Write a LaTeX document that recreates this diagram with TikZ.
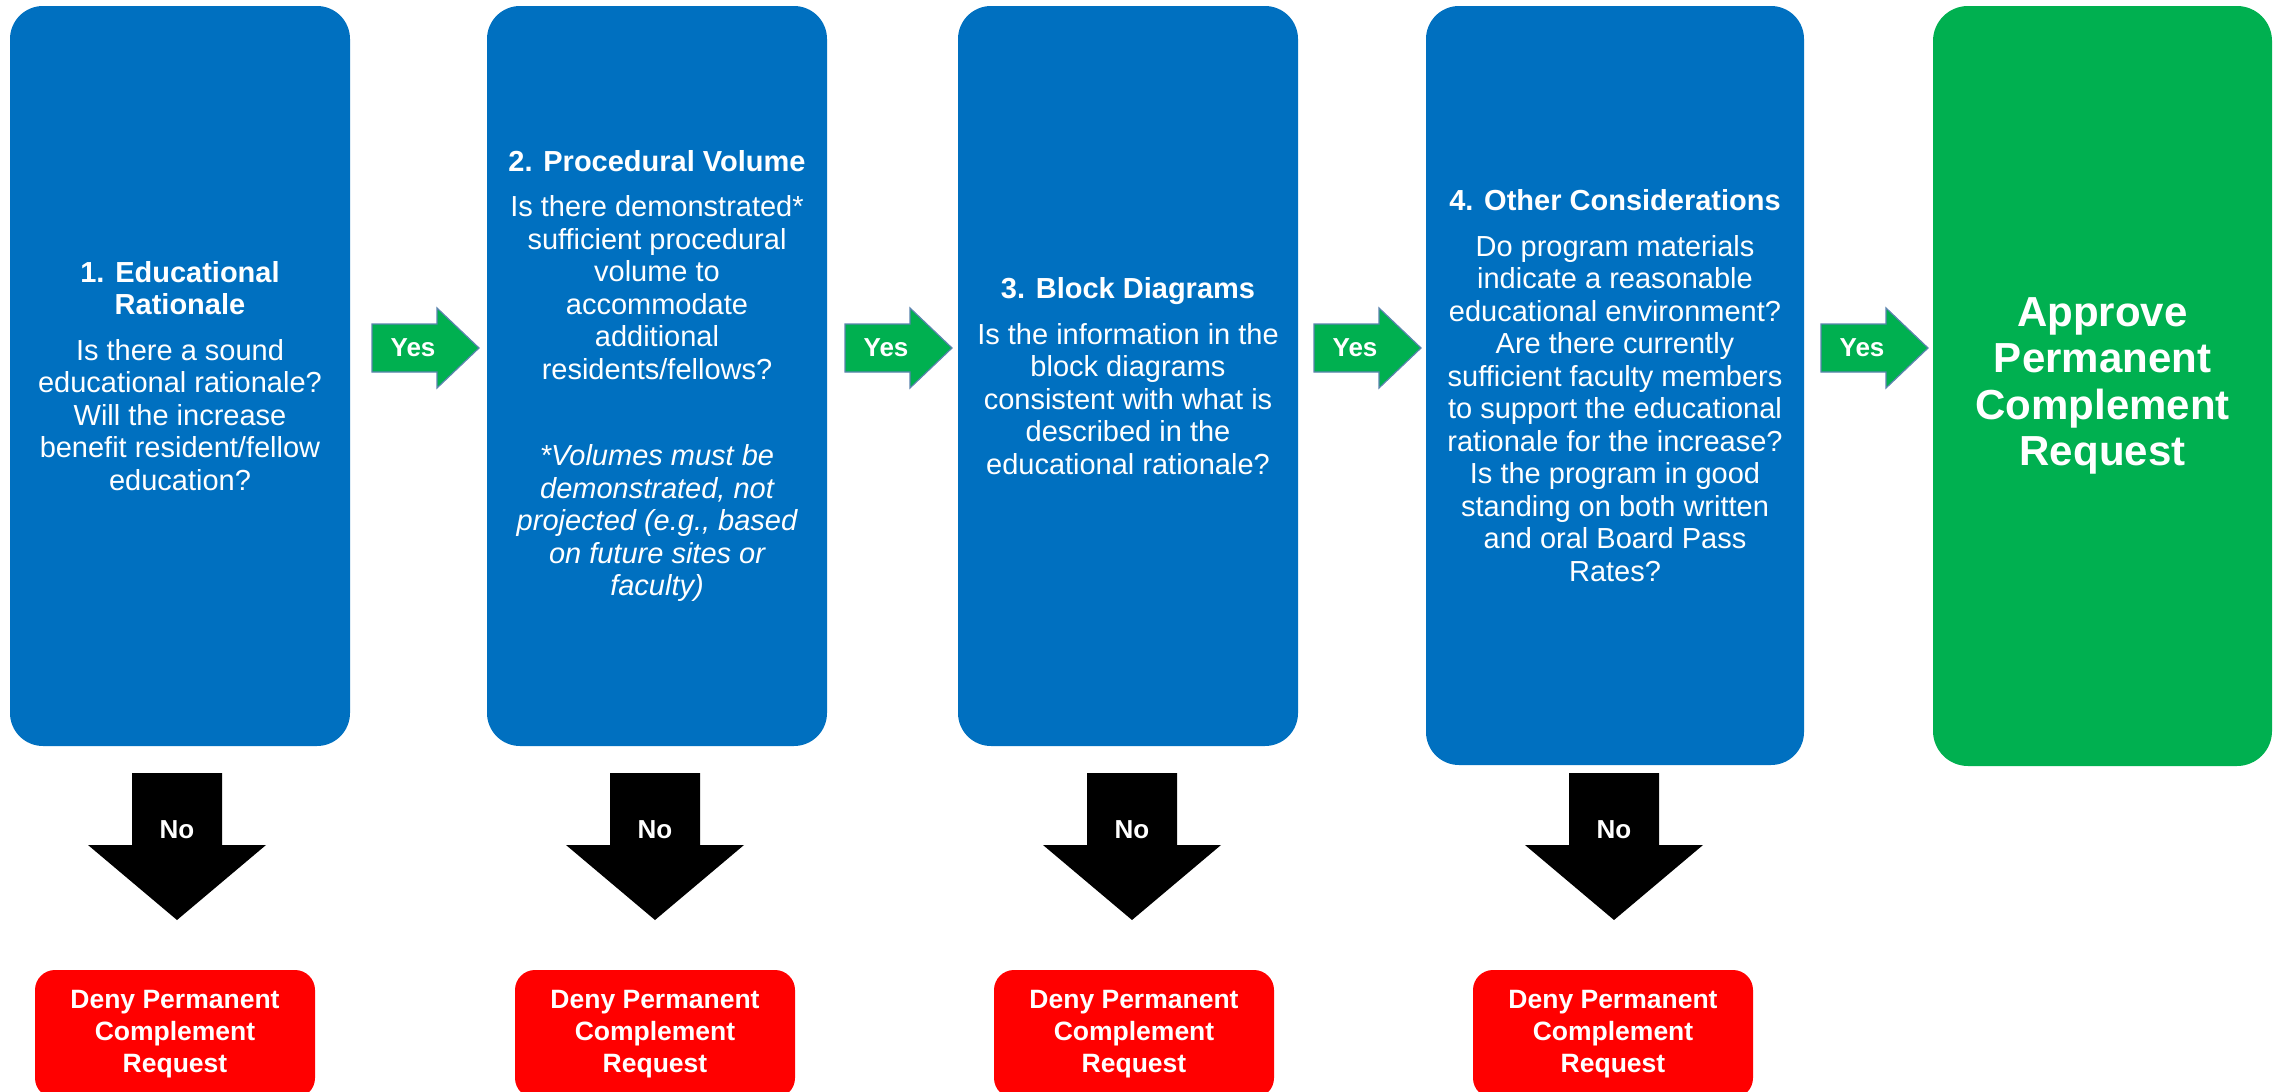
\documentclass[tikz,border=0pt]{standalone}
\usepackage{fontspec}
\setmainfont{Liberation Sans}
\definecolor{boxblue}{HTML}{0070C0}
\definecolor{apgreen}{HTML}{00B050}
\definecolor{denyred}{HTML}{FF0000}
\definecolor{arrowedge}{HTML}{5B84AE}
\begin{document}
\begin{tikzpicture}[x=1pt,y=-1pt,
  qbox/.style={fill=boxblue, rounded corners=33pt, minimum width=340pt, minimum height=740pt,
    inner sep=0pt, text=white, align=center, font=\fontsize{29}{32.5}\selectfont},
  okbox/.style={fill=apgreen, rounded corners=35pt, minimum width=339pt, minimum height=760pt,
    inner sep=0pt, text=white, align=center, font=\fontsize{42}{46.5}\selectfont\bfseries},
  denybox/.style={fill=denyred, rounded corners=20pt, minimum width=280pt, minimum height=128pt,
    inner sep=0pt, text=white, align=center, font=\fontsize{26.5}{32}\selectfont\bfseries},
  pics/yesarr/.style={code={
    \filldraw[fill=apgreen, draw=arrowedge, line width=1.2pt]
      (-107,-24) -- (-42,-24) -- (-42,-40) -- (0,0) -- (-42,40) -- (-42,24) -- (-107,24) -- cycle;}},
  pics/noarr/.style={code={
    \fill[black]
      (-45,-147) -- (45,-147) -- (45,-75) -- (89,-75) -- (0,0) -- (-89,-75) -- (-45,-75) -- cycle;}},
  armtxt/.style={text=white, inner sep=0pt, font=\fontsize{26}{30}\selectfont\bfseries}
]
\useasboundingbox (0,0) rectangle (2275,1092);

% question boxes
\node[qbox] (b1) at (180,376) {{\bfseries 1. Educational}\\{\bfseries Rationale}\\[13pt]
  Is there a sound\\educational rationale?\\Will the increase\\benefit resident/fellow\\education?};
\node[qbox] (b2) at (657,376) {{\bfseries 2. Procedural Volume}\\[13pt]
  Is there demonstrated*\\sufficient procedural\\volume to\\accommodate\\additional\\residents/fellows?\\[54pt]
  {\itshape *Volumes must be}\\{\itshape demonstrated, not}\\{\itshape projected (e.g., based}\\{\itshape on future sites or}\\{\itshape faculty)}};
\node[qbox] (b3) at (1128,376) {{\bfseries 3. Block Diagrams}\\[13pt]
  Is the information in the\\block diagrams\\consistent with what is\\described in the\\educational rationale?};
\node[qbox, minimum width=378pt, minimum height=759pt] (b4) at (1615,385.5) {{\bfseries 4. Other Considerations}\\[13pt]
  Do program materials\\indicate a reasonable\\educational environment?\\Are there currently\\sufficient faculty members\\to support the educational\\rationale for the increase?\\Is the program in good\\standing on both written\\and oral Board Pass\\Rates?};
\node[okbox] (ok) at (2102.5,386) {Approve\\Permanent\\Complement\\Request};

% yes arrows (tip positions)
\pic (y1) at (479,348) {yesarr};
\pic (y2) at (952,348) {yesarr};
\pic (y3) at (1421,348) {yesarr};
\pic (y4) at (1928,348) {yesarr};
\node[armtxt] (y1t) at (413,348) {Yes};
\node[armtxt] (y2t) at (886,348) {Yes};
\node[armtxt] (y3t) at (1355,348) {Yes};
\node[armtxt] (y4t) at (1862,348) {Yes};

% no arrows (tip positions)
\pic (n1) at (177,920) {noarr};
\pic (n2) at (655,920) {noarr};
\pic (n3) at (1132,920) {noarr};
\pic (n4) at (1614,920) {noarr};
\node[armtxt] (n1t) at (177,830) {No};
\node[armtxt] (n2t) at (655,830) {No};
\node[armtxt] (n3t) at (1132,830) {No};
\node[armtxt] (n4t) at (1614,830) {No};

% deny boxes
\node[denybox] (d1) at (175,1034) {Deny Permanent\\Complement\\Request};
\node[denybox] (d2) at (655,1034) {Deny Permanent\\Complement\\Request};
\node[denybox] (d3) at (1134,1034) {Deny Permanent\\Complement\\Request};
\node[denybox] (d4) at (1613,1034) {Deny Permanent\\Complement\\Request};
\end{tikzpicture}
\end{document}
